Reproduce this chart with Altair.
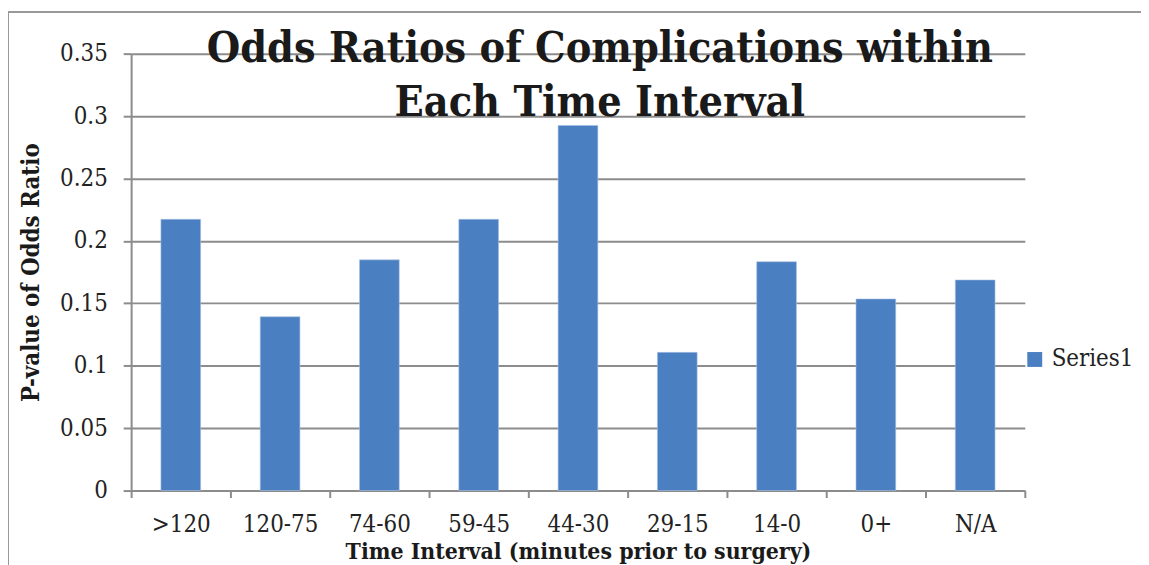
import altair as alt
import pandas as pd

categories = [">120", "120-75", "74-60", "59-45", "44-30", "29-15", "14-0", "0+", "N/A"]
values = [0.2173, 0.1392, 0.1848, 0.2173, 0.2925, 0.1107, 0.1833, 0.1535, 0.1687]
series = ["Series1"] * len(categories)
title_lines = ["Odds Ratios of Complications within", "Each Time Interval"]

df = pd.DataFrame({"Interval": categories, "Value": values, "Series": series})

FONT = "DejaVu Serif Condensed"
GRAY = "#8c8c8c"

bars = alt.Chart(df).mark_bar(width=alt.RelativeBandSize(0.4), stroke="#a9c1e3", strokeWidth=0.6).encode(
    x=alt.X("Interval:N", sort=categories,
            scale=alt.Scale(paddingInner=0, paddingOuter=0),
            axis=alt.Axis(title="Time Interval (minutes prior to surgery)", labelAngle=0,
                          tickBand="extent", tickSize=7, labelPadding=15,
                          titlePadding=4, titleFontSize=23, domainColor=GRAY, tickColor=GRAY,
                          domainWidth=2, tickWidth=2)),
    y=alt.Y("Value:Q", scale=alt.Scale(domain=[0, 0.35], nice=False),
            axis=alt.Axis(title="P-value of Odds Ratio", values=[0, 0.05, 0.1, 0.15, 0.2, 0.25, 0.3, 0.35],
                          format="~g", tickSize=8, labelPadding=16, titlePadding=16, titleFontSize=24,
                          domainColor=GRAY, tickColor=GRAY, gridColor=GRAY,
                          domainWidth=2, tickWidth=2, gridWidth=2)),
    color=alt.Color("Series:N", scale=alt.Scale(range=["#4a7fc1"]),
                    legend=alt.Legend(title=None, orient="none", legendX=898, legendY=296,
                                      symbolType="square", symbolSize=225, symbolStrokeWidth=0,
                                      labelFont=FONT, labelFontSize=24, labelColor="#222222",
                                      labelOffset=5)),
)

frame = pd.DataFrame({"k": [0]})
top_border = alt.Chart(frame).mark_rule(color="#999999", strokeWidth=2).encode(
    x=alt.value(-124), x2=alt.value(1050), y=alt.value(-42))
left_border = alt.Chart(frame).mark_rule(color="#999999", strokeWidth=2).encode(
    x=alt.value(-124), y=alt.value(-42), y2=alt.value(520))

title_df = pd.DataFrame({"line": title_lines, "i": [0, 1]})
title = alt.Chart(title_df).mark_text(font=FONT, fontSize=43, fontWeight="bold", color="#1a1a1a",
                                      align="center", baseline="alphabetic").encode(
    text="line:N",
    x=alt.value(472),
    y=alt.Y("i:Q", scale=alt.Scale(domain=[0, 1], range=[8, 63]), axis=None),
)

chart = alt.layer(bars, top_border, left_border, title).resolve_scale(y="independent").properties(
    width=900, height=440,
    autosize=alt.AutoSizeParams(type="none"),
    padding={"left": 124, "top": 44, "right": 117, "bottom": 73},
).configure_view(stroke=None).configure_axis(
    labelFont=FONT, labelFontSize=24, labelColor="#222222",
    titleFont=FONT, titleFontWeight="bold", titleColor="#1a1a1a",
).configure_axisX(grid=False)

chart.save("out.html", embed_options={"renderer": "svg", "actions": False})
